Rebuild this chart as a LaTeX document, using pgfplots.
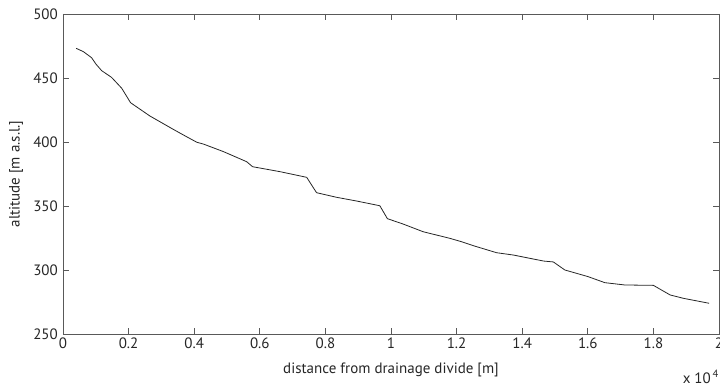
\documentclass[border=0pt]{standalone}
\usepackage{pgfplots}
\pgfplotsset{compat=1.18}
\usepackage{fontspec}
\setmainfont{PT Sans}
\begin{document}
\fontsize{15bp}{17bp}\selectfont
\begin{tikzpicture}
\begin{axis}[
  at={(0,0)}, anchor=south west,
  scale only axis,
  width=656bp, height=320bp,
  xmin=0, xmax=2, ymin=250, ymax=500,
  xtick={0,0.2,...,2.01},
  xticklabels={0,0.2,0.4,0.6,0.8,1,1.2,1.4,1.6,1.8,2},
  ytick={250,300,...,500},
  tick align=inside,
  major tick length=6bp,
  axis line style={draw=black!65, line width=0.8bp},
  every tick/.style={draw=black!65, line width=0.8bp},
  tick label style={font=\fontsize{15bp}{17bp}\selectfont, text=black!85},
  label style={font=\fontsize{15bp}{17bp}\selectfont, text=black!85},
  /pgf/number format/assume math mode=true,
  xlabel={distance from drainage divide [m]},
  ylabel={altitude [m a.s.l.]},
  xlabel style={yshift=-4bp},
  ylabel style={yshift=0bp},
  xticklabel style={yshift=1bp},
  clip=false,
]
\addplot[black!85, line width=0.8bp] coordinates {
(0.040,473.2) (0.062,470.6) (0.087,465.9) (0.101,460.7) (0.118,455.7)
(0.148,450.5) (0.179,442.0) (0.206,430.7) (0.265,420.3) (0.336,409.9)
(0.377,404.1) (0.408,399.8) (0.428,398.4) (0.489,392.5) (0.560,384.6)
(0.578,380.7) (0.662,376.8) (0.743,372.4) (0.773,360.4) (0.834,356.8)
(0.895,353.9) (0.966,350.2) (0.989,340.1) (1.037,335.9) (1.098,329.9)
(1.180,324.7) (1.215,322.1) (1.251,319.0) (1.322,313.5) (1.373,311.7)
(1.414,309.6) (1.465,307.0) (1.495,306.3) (1.530,300.0) (1.601,294.8)
(1.652,290.1) (1.713,288.3) (1.800,288.0) (1.851,280.5) (1.891,277.9)
(1.970,274.0)
};
\node[anchor=base east, text=black!85, inner sep=0pt] at ([yshift=-49bp]rel axis cs:1,0) {x 10\textsuperscript{\,4}};
\end{axis}
\pgfresetboundingbox
\path (-63bp,-53bp) rectangle (657bp,334bp);
\end{tikzpicture}
\end{document}
